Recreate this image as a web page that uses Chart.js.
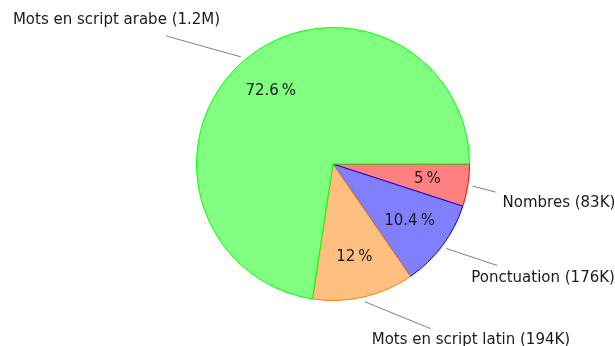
<!DOCTYPE html>
<html>
<head>
<meta charset="utf-8">
<script src="https://cdn.jsdelivr.net/npm/chart.js@4/dist/chart.umd.min.js"></script>
<style>
  html, body { margin: 0; padding: 0; background: #ffffff; }
  #wrap { width: 615px; height: 346px; }
</style>
</head>
<body>
<div id="wrap"><canvas id="c" width="615" height="346"></canvas></div>
<script>
// Share of tokens by category (percent) and their raw counts
const categories = ['Nombres', 'Ponctuation', 'Mots en script latin', 'Mots en script arabe'];
const counts = ['83K', '176K', '194K', '1.2M'];
const shares = [5, 10.4, 12, 72.6];
const shareLabels = ['5\u2009%', '10.4\u2009%', '12\u2009%', '72.6\u2009%'];

const fills = ['#ff8080', '#8080ff', '#ffbf80', '#80ff80'];
const borders = ['#ff0000', '#0000ff', '#ff8000', '#00ff00'];

// Leader-line geometry per slice: end offset from the point just outside the rim,
// and where the caption sits relative to that end (left edge, vertical middle).
const leaders = [
  { dx: 23, dy: 6, tx: 7, ty: 11 },
  { dx: 51, dy: 17, tx: -26, ty: 13 },
  { dx: 66, dy: 27, tx: -59, ty: 11 },
  { dx: -75, dy: -21, tx: -153, ty: -16 }
];

const FONT = '15px "DejaVu Sans", sans-serif';

const labelPlugin = {
  id: 'pieLabels',
  afterDatasetsDraw(chart) {
    const ctx = chart.ctx;
    const meta = chart.getDatasetMeta(0);
    ctx.save();
    meta.data.forEach((arc, i) => {
      const p = arc.getProps(['x', 'y', 'startAngle', 'endAngle', 'outerRadius'], true);
      const mid = (p.startAngle + p.endAngle) / 2;
      const cos = Math.cos(mid), sin = Math.sin(mid);

      // percentage inside the slice
      ctx.font = FONT;
      ctx.fillStyle = '#1a1a1a';
      ctx.textAlign = 'center';
      ctx.textBaseline = 'middle';
      const r0 = p.outerRadius * 0.7;
      ctx.fillText(shareLabels[i], p.x + cos * r0, p.y + sin * r0);

      // leader line and caption outside
      const r1 = p.outerRadius * 1.035;
      const x1 = p.x + cos * r1, y1 = p.y + sin * r1;
      const L = leaders[i];
      const x2 = x1 + L.dx, y2 = y1 + L.dy;
      ctx.strokeStyle = '#808080';
      ctx.lineWidth = 1;
      ctx.beginPath();
      ctx.moveTo(x1, y1);
      ctx.lineTo(x2, y2);
      ctx.stroke();

      ctx.textAlign = 'left';
      ctx.fillText(categories[i] + ' (' + counts[i] + ')', x2 + L.tx, y2 + L.ty);
    });
    ctx.restore();
  }
};

new Chart(document.getElementById('c'), {
  type: 'pie',
  data: {
    labels: categories,
    datasets: [{
      data: shares,
      backgroundColor: fills,
      borderColor: borders,
      borderWidth: 1,
      borderAlign: 'center'
    }]
  },
  options: {
    responsive: false,
    animation: false,
    rotation: 90,
    layout: { padding: { left: 196, right: 145, top: 27, bottom: 45 } },
    plugins: {
      legend: { display: false },
      tooltip: { enabled: false }
    }
  },
  plugins: [labelPlugin]
});
</script>
</body>
</html>
